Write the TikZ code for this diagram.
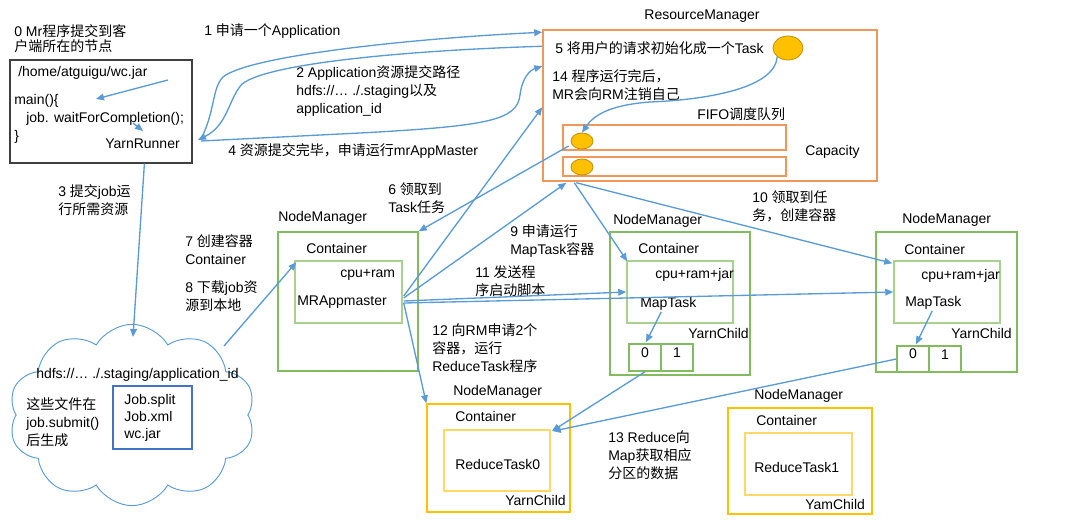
\documentclass[tikz,border=0pt]{standalone}
\usepackage{fontspec}
\setmainfont{Liberation Sans}
\newfontfamily\cjk{Noto Sans CJK SC}
\usetikzlibrary{arrows.meta,shapes.symbols,shapes.geometric,fit,calc}
\newcommand\zh[1]{{\cjk #1}}
\definecolor{ablue}{RGB}{91,155,213}
\definecolor{rmorange}{RGB}{242,150,90}
\definecolor{nmgreen}{RGB}{130,188,95}
\definecolor{ingreen}{RGB}{169,209,142}
\definecolor{ylw}{RGB}{255,192,0}
\definecolor{lylw}{RGB}{255,217,102}
\definecolor{elldraw}{RGB}{191,144,0}
\definecolor{filesblue}{RGB}{68,114,196}
\begin{document}
\begin{tikzpicture}[x=0.75pt,y=-0.75pt,
  txt/.style={inner sep=0pt,anchor=west,align=left,font=\fontsize{10.5pt}{13.5pt}\selectfont},
  ctxt/.style={inner sep=0pt,anchor=center,font=\fontsize{10.5pt}{13.5pt}\selectfont},
  arr/.style={draw=ablue,line width=1pt,-{Triangle[length=6pt,width=5pt]}},
  clientbox/.style={draw=black!75,line width=0.9pt,inner sep=0pt},
  rmbox/.style={draw=rmorange,line width=1.1pt,inner sep=0pt},
  nmbox/.style={draw=nmgreen,line width=1.1pt,inner sep=0pt},
  inbox/.style={draw=ingreen,line width=1.1pt,inner sep=0pt},
  pbox/.style={draw=nmgreen,line width=1.1pt,inner sep=0pt,font=\fontsize{10.5pt}{13.5pt}\selectfont},
  rbox/.style={draw=ylw,line width=1.1pt,inner sep=0pt},
  rinbox/.style={draw=lylw,line width=1.3pt,inner sep=0pt},
  ell/.style={ellipse,draw=elldraw,fill=ylw,line width=0.6pt,inner sep=0pt},
]
\useasboundingbox (0,0) rectangle (1066,531);

% ---------------- client ----------------
\node[txt] (lbl0) at (14,38.5) {0 Mr\zh{程序提交到客}\\[-2.5pt]\zh{户端所在的节点}};
\node[clientbox,fit={(10,60)(192,163)}] (client) {};
\node[txt] (jar) at (18,73) {/home/atguigu/wc.jar};
\node[txt] (code) at (14,119) {main()\{\\\hspace*{9pt}job. waitForCompletion();\\\}};
\node[txt] (yr) at (105,144) {YarnRunner};
\coordinate (ja) at (168,80);
\coordinate (jb) at (96,99);
\coordinate (wa) at (133,123);
\coordinate (wb) at (143,131);
\draw[arr] (ja) -- (jb);
\draw[arr] (wa) -- (wb);

% ---------------- ResourceManager ----------------
\node[ctxt] (rmlbl) at (702,16) {ResourceManager};
\node[rmbox,fit={(543,30)(877,181)}] (rm) {};
\node[txt] (t5) at (555,48) {5 \zh{将用户的请求初始化成一个}Task};
\node[ell,minimum width=22.5pt,minimum height=18pt] (bigE) at (788,48) {};
\node[txt] (t14) at (552,85) {14 \zh{程序运行完后，}\\MR\zh{会向}RM\zh{注销自己}};
\node[txt] (fifo) at (697,114) {FIFO\zh{调度队列}};
\node[rmbox,fit={(563,125)(786,150)}] (q1) {};
\node[rmbox,fit={(563,157)(786,176)}] (q2) {};
\node[ell,minimum width=16.5pt,minimum height=12pt] (q1e) at (582,141) {};
\node[ell,minimum width=16.5pt,minimum height=12pt] (q2e) at (582,167) {};
\node[txt] (cap) at (805,152) {Capacity};
\draw[arr] (bigE.south west) .. controls (775,90) and (700,100) .. (650,102)
   .. controls (610,105) and (594,115) .. (q1e.north);

% ---------------- client <-> RM ----------------
\node[txt] (l1) at (204,31) {1 \zh{申请一个}Application};
\node[txt] (l2) at (296,91) {2 Application\zh{资源提交路径}\\hdfs://… ./.staging\zh{以及}\\application\_id};
\node[txt] (l4) at (228,151) {4 \zh{资源提交完毕，申请运行}mrAppMaster};
\draw[arr] ($(yr.east)+(21,-5)$) .. controls (215,112) and (212,88) .. (223,77)
   .. controls (250,55) and (420,38) .. ($(rm.north west)+(0,3)$);
\draw[arr] ($(rm.north west)+(0,17)$) .. controls (420,50) and (270,62) .. (242,84)
   .. controls (228,100) and (228,125) .. ($(yr.east)+(18,-4)$);
\draw[arr] ($(yr.east)+(21,-3)$) -- (360,133) .. controls (490,126) and (517,120) .. (520,95)
   .. controls (522,78) and (530,70) .. ($(rm.north west)+(0,37)$);

% ---------------- hdfs cloud ----------------
\node[txt] (l3) at (58,200) {3 \zh{提交}job\zh{运}\\\zh{行所需资源}};
\node[cloud,draw=ablue,line width=0.7pt,cloud puffs=10,cloud puff arc=120,cloud ignores aspect,
      minimum width=185pt,minimum height=136pt,inner sep=0pt] (hdfs) at (132,415) {};
\node[txt] (hpath) at (36,375) {hdfs://… ./.staging/application\_id};
\node[txt] (gen) at (26,422) {\zh{这些文件在}\\job.submit()\\\zh{后生成}};
\node[draw=filesblue,line width=0.9pt,inner sep=0pt,fit={(113,386)(192,449)}] (files) {};
\node[txt,font=\fontsize{10.5pt}{12.75pt}\selectfont] (ftxt) at (124,418) {Job.split\\Job.xml\\wc.jar};
\draw[arr] ($(client.south west)+(135,0)$) -- (133,337);

% ---------------- NodeManager 1 (MRAppmaster) ----------------
\node[txt] (l7) at (185,250) {7 \zh{创建容器}\\Container};
\node[txt] (l8) at (185,296) {8 \zh{下载}job\zh{资}\\\zh{源到本地}};
\node[txt] (nml1) at (278,218) {NodeManager};
\node[nmbox,fit={(278,232)(418,371)}] (nm1) {};
\node[txt] (c1) at (306,248) {Container};
\node[inbox,fit={(295,261)(402,323)}] (ct1) {};
\node[txt] (cr1) at (340,275) {cpu+ram};
\node[txt] (mra) at (297,302) {MRAppmaster};
\coordinate (cloudout) at (224,346);
\draw[arr] (cloudout) -- ($(ct1.north west)+(2,2)$);

% ---------------- NodeManager 2 ----------------
\node[txt] (nml2) at (613,221) {NodeManager};
\node[nmbox,fit={(610,232)(750,375)}] (nm2) {};
\node[txt] (c2) at (638,248) {Container};
\node[inbox,fit={(627,261)(733,323)}] (ct2) {};
\node[txt] (cr2) at (655,275) {cpu+ram+jar};
\node[txt] (mt2) at (640,304) {MapTask};
\node[txt] (yc2) at (688,333) {YarnChild};
\node[pbox,fit={(629,344)(661,371)}] (p20) {0};
\node[pbox,fit={(661,344)(693,371)}] (p21) {1};
\draw[arr] ($(mt2.south)+(-7,1)$) -- ($(p20.north)+(1,-1)$);

% ---------------- NodeManager 3 ----------------
\node[txt] (nml3) at (902,220) {NodeManager};
\node[nmbox,fit={(876,232)(1017,372)}] (nm3) {};
\node[txt] (c3) at (904,249) {Container};
\node[inbox,fit={(894,261)(1000,323)}] (ct3) {};
\node[txt] (cr3) at (921,276) {cpu+ram+jar};
\node[txt] (mt3) at (905,303) {MapTask};
\node[txt] (yc3) at (951,333) {YarnChild};
\node[pbox,fit={(897,346)(929,372)}] (p30) {0};
\node[pbox,fit={(929,346)(961,372)}] (p31) {1};
\draw[arr] ($(mt3.south)+(-1,1)$) -- ($(p30.north)+(3,-1)$);

% ---------------- NodeManager 4 (ReduceTask0) ----------------
\node[txt] (nml4) at (453,392) {NodeManager};
\node[rbox,fit={(427,404)(570,512)}] (nm4) {};
\node[txt] (c4) at (455,416) {Container};
\node[rinbox,fit={(444,430)(550,491)}] (ct4) {};
\node[txt] (rt0) at (455,464) {ReduceTask0};
\node[txt] (yc4) at (505,500) {YarnChild};

% ---------------- NodeManager 5 (ReduceTask1) ----------------
\node[txt] (nml5) at (754,396) {NodeManager};
\node[rbox,fit={(728,408)(872,514)}] (nm5) {};
\node[txt] (c5) at (756,420) {Container};
\node[rinbox,fit={(745,433)(852,495)}] (ct5) {};
\node[txt] (rt1) at (754,467) {ReduceTask1};
\node[txt] (yc5) at (805,504) {YamChild};

% ---------------- step labels ----------------
\node[txt] (l6) at (388,198) {6 \zh{领取到}\\Task\zh{任务}};
\node[txt] (l9) at (510,241) {9 \zh{申请运行}\\MapTask\zh{容器}};
\node[txt] (l10) at (752,206) {10 \zh{领取到任}\\\zh{务，创建容器}};
\node[txt] (l11) at (475,281) {11 \zh{发送程}\\\zh{序启动脚本}};
\node[txt] (l12) at (432,348) {12 \zh{向}RM\zh{申请}2\zh{个}\\\zh{容器，运行}\\ReduceTask\zh{程序}};
\node[txt] (l13) at (608,455) {13 Reduce\zh{向}\\Map\zh{获取相应}\\\zh{分区的数据}};

% ---------------- connectors ----------------
\draw[arr] ($(q1e.west)+(-2,5)$) -- (nm1.north east);                 % 6
\draw[arr] ($(ct1.east)+(1,4)$) -- ($(rm.north west)+(0,78)$);         % 14
\draw[arr] ($(ct1.east)+(1,6)$) -- ($(rm.south west)+(24,1)$);         % 9
\draw[arr] ($(rm.south west)+(32,1)$) -- ($(ct2.north west)+(1,1)$);    % 10a
\draw[arr] ($(rm.south west)+(34,1)$) -- ($(ct3.north west)+(-1,3)$);   % 10b
\draw[arr] ($(ct1.east)+(1,9)$) -- (ct2.west);                           % 11a
\draw[arr] ($(ct1.east)+(1,11)$) -- (ct3.west);                          % 11b
\draw[arr] ($(ct1.east)+(1,11)$) -- (nm4.north west);                    % 12
\draw[arr] (p20.south) -- ($(ct4.north east)+(1,2)$);                    % 13a
\draw[arr] (p30.west) -- ($(ct4.north east)+(2,2)$);                     % 13b
\end{tikzpicture}
\end{document}
